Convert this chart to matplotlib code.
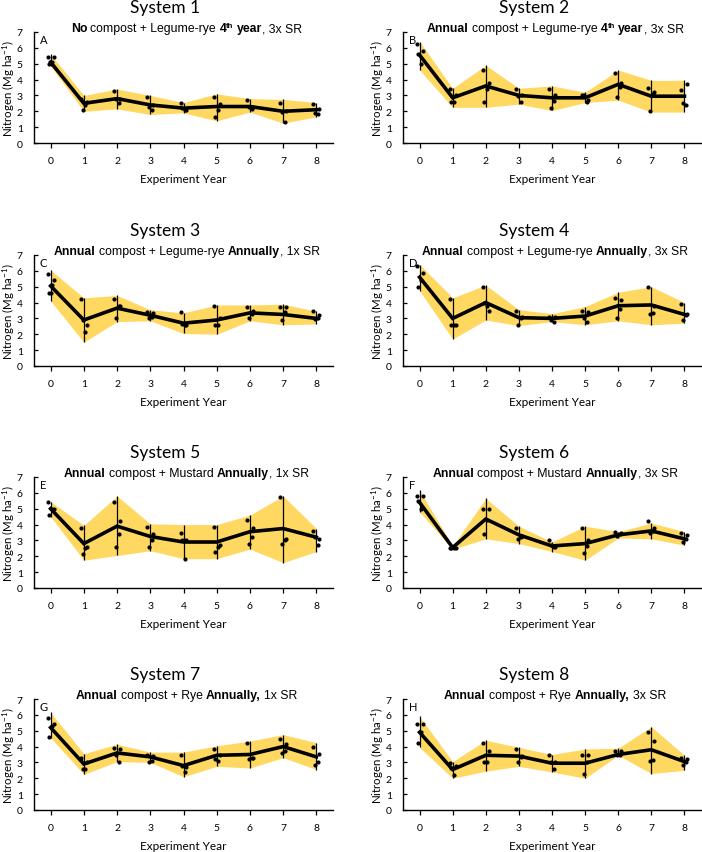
import matplotlib
matplotlib.use("Agg")
import matplotlib.pyplot as plt

# ========= 資料 =========
YEARS = list(range(9))

s1_mean = [5.1, 2.5, 2.8, 2.4, 2.2, 2.3, 2.3, 2.0, 2.1]
s1_high = [5.6, 3.0, 3.4, 3.0, 2.55, 3.1, 2.8, 2.75, 2.55]
s1_low = [4.85, 2.0, 2.15, 1.8, 1.9, 1.4, 1.95, 1.25, 1.65]
s1_pts = [[5.4, 5.4, 5.1, 5.0], [2.8, 2.6, 2.4, 2.1], [3.3, 2.8, 2.5, 2.75],
          [2.9, 2.4, 2.1, 2.3], [2.5, 2.1, 2.1, 2.2], [2.9, 2.45, 2.1, 1.65],
          [2.7, 2.3, 2.15, 2.25], [2.55, 2.0, 1.35, 1.95], [2.45, 2.15, 1.85, 1.9]]

s2_mean = [5.55, 2.85, 3.6, 3.0, 2.85, 2.85, 3.7, 2.95, 2.95]
s2_high = [6.4, 3.45, 4.9, 3.45, 3.6, 3.2, 4.6, 3.95, 3.95]
s2_low = [4.6, 2.25, 2.25, 2.45, 2.05, 2.55, 2.7, 1.95, 1.95]
s2_pts = [[6.25, 5.8, 5.0, 5.6], [3.4, 3.0, 2.6, 2.6], [4.6, 3.8, 3.4, 2.6],
          [3.4, 3.0, 2.6, 2.95], [3.4, 3.0, 2.65, 2.2], [3.0, 2.7, 2.6, 3.0],
          [4.4, 3.8, 3.55, 2.9], [3.5, 3.2, 3.1, 2.0], [3.35, 3.7, 2.4, 2.5]]

s3_mean = [5.05, 2.9, 3.65, 3.2, 2.7, 2.9, 3.35, 3.25, 3.0]
s3_high = [6.05, 4.3, 4.45, 3.55, 3.35, 3.85, 3.85, 3.9, 3.45]
s3_low = [4.1, 1.5, 2.8, 2.85, 2.05, 2.0, 2.85, 2.6, 2.65]
s3_pts = [[5.8, 5.4, 5.1, 4.6, 4.6], [4.2, 2.6, 2.15, 2.9], [4.2, 3.8, 3.8, 3.0],
          [3.4, 3.35, 3.1, 3.0], [3.4, 2.6, 2.6, 2.65], [3.8, 3.0, 2.6, 2.6],
          [3.7, 3.5, 3.3, 3.0], [3.7, 3.7, 3.4, 2.9], [3.5, 3.2, 3.0, 2.95]]

s4_mean = [5.6, 3.0, 4.0, 3.05, 3.0, 3.15, 3.8, 3.85, 3.25]
s4_high = [6.4, 4.3, 5.1, 3.55, 3.3, 3.75, 4.65, 5.0, 4.0]
s4_low = [4.75, 1.7, 2.9, 2.55, 2.8, 2.6, 2.85, 2.6, 2.7]
s4_pts = [[6.3, 5.85, 5.4, 5.0], [4.2, 2.6, 2.6, 2.6], [5.0, 3.5, 3.8, 4.0],
          [3.5, 3.1, 3.0, 2.6], [3.1, 3.1, 2.75, 2.9], [3.5, 3.4, 2.8, 3.0],
          [4.3, 4.15, 3.6, 3.05], [5.0, 3.8, 3.35, 3.3], [3.9, 3.3, 3.2, 2.9]]

s5_mean = [5.0, 2.8, 3.9, 3.25, 2.9, 2.9, 3.55, 3.75, 3.2]
s5_high = [5.45, 3.95, 5.8, 4.05, 4.0, 4.0, 4.6, 5.8, 3.75]
s5_low = [4.5, 1.75, 2.05, 2.35, 1.85, 1.85, 2.45, 1.6, 2.3]
s5_pts = [[5.4, 5.0, 5.0, 4.6], [3.8, 2.6, 2.55, 2.15], [5.4, 4.2, 3.4, 2.6],
          [3.85, 3.4, 3.0, 2.6], [3.5, 3.05, 1.85, 3.0], [3.85, 2.7, 2.6, 2.25],
          [4.3, 3.8, 3.2, 2.75], [5.75, 3.1, 3.05, 2.8], [3.6, 3.1, 2.7, 3.2]]

s6_mean = [5.4, 2.55, 4.35, 3.35, 2.65, 2.8, 3.35, 3.6, 3.1]
s6_high = [6.15, 2.65, 5.65, 3.9, 2.9, 3.9, 3.55, 4.1, 3.55]
s6_low = [4.8, 2.45, 3.1, 2.8, 2.3, 1.75, 3.15, 3.1, 2.7]
s6_pts = [[5.8, 5.8, 5.0, 5.5], [2.55, 2.55, 2.55, 2.55], [5.0, 5.0, 4.3, 3.4],
          [3.8, 3.3, 3.2, 3.1], [3.05, 2.6, 2.6, 2.7], [3.8, 3.0, 2.65, 2.2],
          [3.55, 3.5, 3.4, 3.3], [4.25, 3.8, 3.6, 3.5], [3.5, 3.35, 3.1, 2.9]]

s7_mean = [5.2, 2.9, 3.6, 3.35, 2.8, 3.45, 3.5, 4.0, 3.35]
s7_high = [6.15, 3.55, 4.15, 3.65, 3.65, 4.05, 4.35, 4.75, 4.25]
s7_low = [4.55, 2.25, 3.05, 3.0, 2.1, 2.75, 2.65, 3.3, 2.55]
s7_pts = [[5.8, 5.4, 5.3, 4.6], [3.3, 3.0, 2.6, 2.6], [3.9, 3.85, 3.0, 3.5],
          [3.5, 3.4, 3.1, 3.0], [3.5, 2.7, 2.4, 2.8], [3.85, 3.5, 3.1, 3.2],
          [4.25, 3.25, 3.25, 3.2], [4.45, 4.15, 3.7, 3.6], [4.0, 3.55, 3.0, 2.85]]

s8_mean = [4.9, 2.55, 3.45, 3.4, 2.95, 2.95, 3.5, 3.8, 3.05]
s8_high = [5.9, 3.05, 4.4, 3.95, 3.5, 3.85, 3.9, 5.25, 3.45]
s8_low = [3.95, 2.0, 2.45, 2.75, 2.4, 2.0, 3.45, 2.3, 2.5]
s8_pts = [[5.4, 5.4, 4.9, 4.2], [2.95, 2.75, 2.2, 2.65], [4.25, 3.75, 3.05, 3.0],
          [3.85, 3.4, 3.35, 3.0], [3.45, 3.05, 2.6, 3.0], [3.45, 3.45, 3.0, 2.25],
          [3.75, 3.75, 3.5, 3.45], [4.9, 4.35, 3.15, 3.1], [3.3, 3.2, 3.0, 2.85]]

TITLES = ["System %d" % i for i in range(1, 9)]
LETTERS = list("ABCDEFGH")

# (文字, 粗體, 上標)
SUBTITLES = [
    [("No", True, False), (" compost + Legume-rye ", False, False), ("4", True, False),
     ("th", True, True), (" year", True, False), (", 3x SR", False, False)],
    [("Annual", True, False), (" compost + Legume-rye ", False, False), ("4", True, False),
     ("th", True, True), (" year", True, False), (", 3x SR", False, False)],
    [("Annual", True, False), (" compost + Legume-rye ", False, False),
     ("Annually", True, False), (", 1x SR", False, False)],
    [("Annual", True, False), (" compost + Legume-rye ", False, False),
     ("Annually", True, False), (", 3x SR", False, False)],
    [("Annual", True, False), (" compost + Mustard ", False, False),
     ("Annually", True, False), (", 1x SR", False, False)],
    [("Annual", True, False), (" compost + Mustard ", False, False),
     ("Annually", True, False), (", 3x SR", False, False)],
    [("Annual", True, False), (" compost + Rye ", False, False),
     ("Annually,", True, False), (" 1x SR", False, False)],
    [("Annual", True, False), (" compost + Rye ", False, False),
     ("Annually,", True, False), (" 3x SR", False, False)],
]

SYSTEMS = [
    (s1_mean, s1_low, s1_high, s1_pts), (s2_mean, s2_low, s2_high, s2_pts),
    (s3_mean, s3_low, s3_high, s3_pts), (s4_mean, s4_low, s4_high, s4_pts),
    (s5_mean, s5_low, s5_high, s5_pts), (s6_mean, s6_low, s6_high, s6_pts),
    (s7_mean, s7_low, s7_high, s7_pts), (s8_mean, s8_low, s8_high, s8_pts),
]

# ========= 樣式 =========
BAND = "#FFD862"
FONT = ["Lato", "DejaVu Sans"]
SUBFONT = ["Liberation Sans", "DejaVu Sans"]
JITTER = [-0.09, 0.09, 0.05, -0.04, 0.0]

plt.rcParams["font.family"] = FONT
plt.rcParams["mathtext.fontset"] = "custom"
plt.rcParams["mathtext.rm"] = "Lato"
plt.rcParams["mathtext.it"] = "Lato:italic"
plt.rcParams["mathtext.bf"] = "Lato:bold"

W, H = 702, 853
fig = plt.figure(figsize=(W / 100, H / 100), dpi=100)
renderer = fig.canvas.get_renderer()

COL_LEFT = [34, 403]
COL_WIDTH = [299, 298]
ROW_TOP = [33, 256, 478, 700]
AX_H = 111


def _adv(s, fs, wt):
    # 量字串前進寬度 (含空白)
    a = fig.text(0, 0, "|" + s + "|", fontsize=fs, fontweight=wt, family=SUBFONT)
    b = fig.text(0, 0, "||", fontsize=fs, fontweight=wt, family=SUBFONT)
    w = a.get_window_extent(renderer).width - b.get_window_extent(renderer).width
    a.remove()
    b.remove()
    return w


def rich_text(parts, cx, y_base, size=8.8):
    """多段文字 (粗體/上標) 置中排在 cx (像素)"""
    items = []
    total = 0.0
    for s, bold, sup in parts:
        fs = size * 0.62 if sup else size
        wt = "bold" if bold else "normal"
        core = s.strip(" ")
        lead = s[:len(s) - len(s.lstrip(" "))]
        t = fig.text(0, 0, core, fontsize=fs, fontweight=wt, family=SUBFONT,
                     va="baseline", ha="left")
        items.append((t, total + (_adv(lead, fs, wt) if lead else 0), sup))
        total += _adv(s, fs, wt)
    x0 = cx - total / 2
    for t, off, sup in items:
        yb = y_base - (4.0 if sup else 0)
        t.set_position(((x0 + off) / W, 1 - yb / H))


for i, (mean, low, high, pts) in enumerate(SYSTEMS):
    r, c = divmod(i, 2)
    left = COL_LEFT[c]
    top = ROW_TOP[r]
    ax = fig.add_axes([left / W, 1 - (top + AX_H) / H, COL_WIDTH[c] / W, AX_H / H])

    ax.fill_between(YEARS, low, high, color=BAND, lw=0, zorder=1)
    ax.vlines(YEARS, low, high, color="black", lw=0.9, zorder=2)
    ax.plot(YEARS, mean, color="black", lw=2.6, zorder=3, solid_joinstyle="miter")
    for yr, vals in zip(YEARS, pts):
        xs = [yr + JITTER[k] for k in range(len(vals))]
        ax.plot(xs, vals, "o", color="black", ms=3.0, mew=0, zorder=4)

    ax.set_xlim(-0.5, 8.5)
    ax.set_ylim(0, 7)
    ax.set_xticks(YEARS)
    ax.set_yticks(range(8))
    ax.spines["top"].set_visible(False)
    ax.spines["right"].set_visible(False)
    for sp in ("left", "bottom"):
        ax.spines[sp].set_linewidth(1.0)
    ax.tick_params(axis="y", direction="in", length=3, width=0.9, pad=8, labelsize=7.5)
    ax.tick_params(axis="x", direction="out", length=3.5, width=0.9, pad=6, labelsize=7.5)
    ax.set_facecolor("none")

    ax.set_xlabel("Experiment Year", fontsize=8.5)
    ax.set_ylabel("Nitrogen (Mg ha$^{-1}$)", fontsize=8.3)
    # 軸標題位置 (像素換成軸座標)
    ax.xaxis.set_label_coords(0.5, -30 / AX_H)
    ax.yaxis.set_label_coords(-17 / COL_WIDTH[c], 0.5)

    ax.text(0.02, 0.98, LETTERS[i], transform=ax.transAxes, fontsize=8,
            ha="left", va="top")

    cx = left + COL_WIDTH[c] / 2
    fig.text((cx - 18) / W, 1 - (top - 20) / H, TITLES[i], fontsize=12.5,
             ha="center", va="baseline")
    rich_text(SUBTITLES[i], cx + 3, top - 1)

fig.savefig("out.png", dpi=100)
